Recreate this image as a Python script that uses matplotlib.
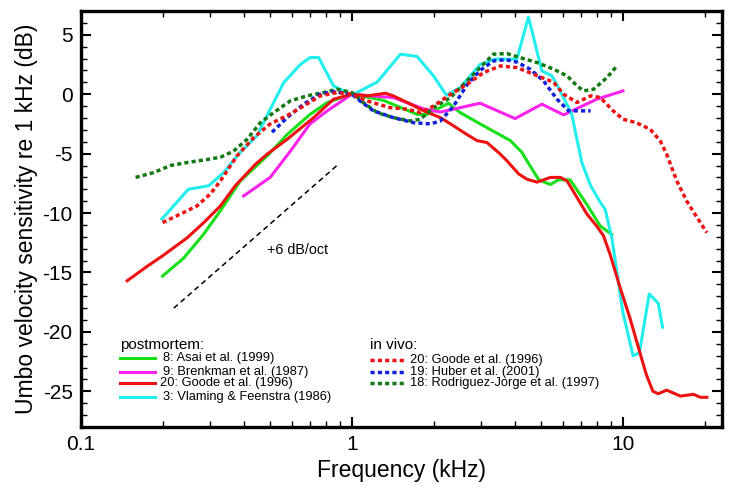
import matplotlib
matplotlib.use("Agg")
import matplotlib.pyplot as plt
from matplotlib.ticker import LogLocator, NullFormatter, MultipleLocator, FixedLocator, FixedFormatter

plt.rcParams['font.family'] = ['Liberation Sans', 'DejaVu Sans']
plt.rcParams['axes.unicode_minus'] = False

# ---------------- data (frequency kHz, dB re 1 kHz) ----------------
asai_f = [0.2, 0.239, 0.283, 0.327, 0.387, 0.486, 0.576, 0.70, 0.81, 1.0, 1.3, 1.74, 1.89, 2.27, 2.51,
          2.97, 3.84, 4.24, 4.42, 4.89, 5.4, 5.78, 6.38, 7.37, 8.25, 9.1]
asai_db = [-15.3, -13.8, -11.8, -9.8, -7.3, -5.2, -3.4, -1.7, -0.7, 0.0, -0.5, -1.7, -1.7, -0.76, -1.55,
           -2.5, -3.9, -4.9, -5.6, -7.2, -7.6, -7.2, -7.2, -9.3, -11.1, -11.8]

brenk_f = [0.398, 0.499, 0.592, 0.70, 0.81, 1.0, 1.27, 1.42, 1.84, 2.12, 2.97, 4.0, 5.02, 6.04, 8.0, 10.0]
brenk_db = [-8.56, -7.0, -4.8, -2.5, -1.4, 0.0, -0.2, -0.28, -1.24, -1.5, -0.76, -2.05, -0.84, -1.74, -0.42, 0.28]

goode_pm_f = [0.148, 0.175, 0.2, 0.246, 0.284, 0.327, 0.371, 0.44, 0.486, 0.576, 0.722, 0.855, 1.0, 1.136,
              1.33, 1.42, 1.6, 1.84, 2.12, 2.31, 2.66, 2.89, 3.15, 3.53, 3.73, 4.12, 4.42, 4.82, 5.4, 5.88,
              6.22, 6.77, 7.37, 8.0, 8.47, 8.97, 9.77, 10.6, 11.5, 12.2, 12.9, 13.5, 14.5, 16.3, 18.2, 19.3, 20.4]
goode_pm_db = [-15.7, -14.5, -13.6, -12.1, -10.8, -9.4, -7.7, -5.9, -5.05, -3.8, -1.97, -0.42, 0.0, -0.14,
               0.08, -0.14, -0.7, -1.4, -1.97, -2.5, -3.4, -3.9, -4.07, -5.05, -5.6, -6.7, -7.15, -7.4, -7.0, -7.0,
               -7.3, -8.7, -10.1, -11.1, -11.9, -13.5, -16.3, -18.8, -21.6, -23.6, -25.0, -25.2, -24.9, -25.4, -25.25, -25.5, -25.5]

vlam_f = [0.199, 0.249, 0.296, 0.336, 0.381, 0.446, 0.492, 0.56, 0.645, 0.70, 0.753, 0.855, 1.0, 1.24,
          1.51, 1.74, 2.0, 2.23, 2.51, 2.97, 3.38, 4.06, 4.48, 5.02, 5.47, 5.78, 6.47, 7.05, 7.6, 8.25,
          8.6, 9.1, 10.0, 10.9, 11.5, 12.5, 13.5, 14.0]
vlam_db = [-10.5, -8.0, -7.7, -6.6, -5.05, -3.5, -1.55, 0.98, 2.5, 3.08, 3.1, 0.7, -0.08, 1.03,
           3.37, 3.17, 1.54, -0.08, 0.56, 2.5, 2.95, 2.95, 6.5, 1.96, 1.54, 0.56, -1.68, -5.75, -7.7, -9.1,
           -9.7, -12.1, -18.4, -22.0, -21.75, -16.8, -17.6, -19.6]

goode_iv_f = [0.2, 0.232, 0.268, 0.30, 0.327, 0.376, 0.434, 0.499, 0.576, 0.663, 0.764, 0.88, 1.0, 1.136,
              1.38, 1.6, 1.79, 2.0, 2.31, 2.66, 3.06, 3.53, 4.06, 4.68, 5.55, 6.04, 6.77, 7.6, 8.25, 9.2,
              10.0, 11.2, 12.6, 13.7, 14.5, 15.8, 17.2, 18.8, 20.4]
goode_iv_db = [-10.8, -10.1, -9.4, -8.4, -7.3, -5.2, -3.65, -2.5, -1.8, -1.0, -0.14, 0.14, 0.0, -0.56,
               -1.13, -1.26, -1.55, -1.0, 0.0, 0.84, 1.82, 2.38, 2.24, 1.68, 1.0, 0.0, -0.7, -0.14, -0.28, -1.4,
               -2.1, -2.4, -2.95, -3.9, -5.05, -7.3, -9.0, -10.4, -11.65]

huber_f = [0.507, 0.576, 0.663, 0.764, 0.855, 1.0, 1.07, 1.2, 1.42, 1.69, 1.95, 2.12, 2.37, 2.66, 2.97,
           3.33, 3.7, 4.06, 4.55, 5.1, 5.7, 6.3, 7.6]
huber_db = [-3.2, -1.97, -0.84, 0.0, 0.22, 0.0, -0.56, -1.4, -1.97, -2.4, -2.5, -2.25, -1.0, 0.8, 2.0,
            2.8, 2.9, 2.7, 2.1, 1.1, -0.4, -1.4, -1.4]

rodr_f = [0.159, 0.185, 0.214, 0.246, 0.291, 0.327, 0.365, 0.41, 0.459, 0.514, 0.592, 0.682, 0.786, 0.88,
          1.0, 1.10, 1.24, 1.42, 1.64, 1.79, 2.0, 2.31, 2.66, 2.97, 3.33, 3.73, 4.17, 4.82, 5.55, 6.22,
          6.77, 7.15, 7.8, 8.73, 9.5]
rodr_db = [-7.0, -6.6, -6.0, -5.75, -5.5, -5.3, -4.8, -3.8, -2.4, -1.55, -0.56, -0.14, 0.14, 0.42,
           0.14, -0.7, -1.55, -1.97, -2.25, -2.1, -1.13, -0.28, 1.12, 2.24, 3.37, 3.42, 3.08, 2.66, 2.1, 1.54,
           0.7, 0.28, 0.42, 1.4, 2.38]

slope_f = [0.22, 0.88]
slope_db = [-18.0, -6.0]

pm_labels = ["8: Asai et al. (1999)", "9: Brenkman et al. (1987)", "20: Goode et al. (1996)",
             "3: Vlaming & Feenstra (1986)"]
iv_labels = ["20: Goode et al. (1996)", "19: Huber et al. (2001)", "18: Rodriguez-Jorge et al. (1997)"]

x_ticks = [0.1, 1, 10]
x_ticklabels = ["0.1", "1", "10"]
y_ticks = [-25, -20, -15, -10, -5, 0, 5]

# ---------------- style ----------------
c_green = '#18e018'
c_mag = '#ff22ee'
c_red = '#ee1111'
c_cyan = '#22eeee'
c_blue = '#1122dd'
c_dgreen = '#117a11'
lw_s = 2.2
lw_d = 2.5
dot = (0, (1.2, 0.9))

fig = plt.figure(figsize=(7.3, 4.9), dpi=100)
ax = fig.add_axes([81/730, 1-427/490, 641/730, 416/490])

series = [
    (asai_f, asai_db, c_green, '-'),
    (brenk_f, brenk_db, c_mag, '-'),
    (vlam_f, vlam_db, c_cyan, '-'),
    (goode_pm_f, goode_pm_db, c_red, '-'),
    (rodr_f, rodr_db, c_dgreen, dot),
    (huber_f, huber_db, c_blue, dot),
    (goode_iv_f, goode_iv_db, c_red, dot),
]
for f, d, c, ls in series:
    if ls == '-':
        ax.plot(f, d, color=c, lw=lw_s, ls='-', solid_joinstyle='round')
    else:
        ax.plot(f, d, color=c, lw=lw_d, ls=ls, dash_capstyle='butt')

ax.plot(slope_f, slope_db, color='black', lw=1.1, ls=(0, (3.5, 2.5)))
ax.text(0.63, -13.1, "+6 dB/oct", fontsize=10.3, ha='center', va='center')

ax.set_xscale('log')
ax.set_xlim(0.1, 23.2)
ax.set_ylim(-28, 7)
ax.xaxis.set_major_locator(FixedLocator(x_ticks))
ax.xaxis.set_major_formatter(FixedFormatter(x_ticklabels))
ax.xaxis.set_minor_locator(LogLocator(base=10, subs=range(2, 10), numticks=20))
ax.xaxis.set_minor_formatter(NullFormatter())
ax.yaxis.set_major_locator(FixedLocator(y_ticks))
ax.yaxis.set_minor_locator(MultipleLocator(1))

for s in ax.spines.values():
    s.set_linewidth(2.4)
ax.tick_params(which='both', direction='in', top=True, right=True)
ax.tick_params(which='major', length=7, width=1.5, labelsize=15, pad=6)
ax.tick_params(which='minor', length=4, width=1.0)

ax.set_xlabel("Frequency (kHz)", fontsize=16.5, labelpad=3)
ax.set_ylabel("Umbo velocity sensitivity re 1 kHz (dB)", fontsize=16.5, labelpad=3)

# ---------------- legends (manual) ----------------
T = ax.transAxes
ax.text(0.0608, 0.197, "postmortem:", transform=T, fontsize=11, ha='left', va='center')
pm_colors = [c_green, c_mag, c_red, c_cyan]
pm_y = [0.165, 0.133, 0.105, 0.073]
pm_tx = [0.1285, 0.1285, 0.124, 0.1285]
for lab, c, y, tx in zip(pm_labels, pm_colors, pm_y, pm_tx):
    ax.plot([0.0608, 0.1154], [y, y], transform=T, color=c, lw=lw_s)
    ax.text(tx, y, lab, transform=T, fontsize=9.3, ha='left', va='center')

ax.text(0.451, 0.197, "in vivo:", transform=T, fontsize=11, ha='left', va='center')
iv_colors = [c_red, c_blue, c_dgreen]
iv_y = [0.161, 0.133, 0.105]
for lab, c, y in zip(iv_labels, iv_colors, iv_y):
    ax.plot([0.451, 0.505], [y, y], transform=T, color=c, lw=lw_d, ls=dot, dash_capstyle='butt')
    ax.text(0.513, y, lab, transform=T, fontsize=9.3, ha='left', va='center')

fig.savefig("out.png", dpi=100)
